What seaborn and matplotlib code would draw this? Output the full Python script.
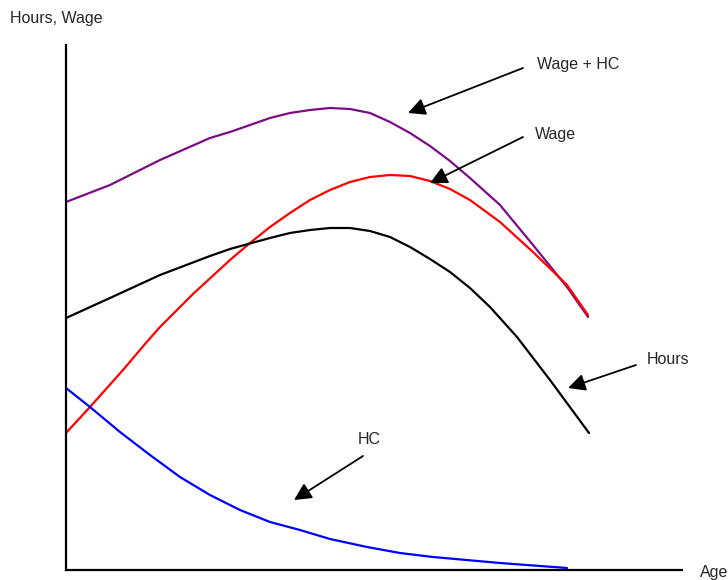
import numpy as np
import pandas as pd
import seaborn as sns
import matplotlib
matplotlib.use("Agg")
import matplotlib.pyplot as plt

sns.set_theme(style="white")
plt.rcParams['font.family'] = ['Liberation Sans', 'DejaVu Sans']

# curve values (age units on x, level on y)
wage_hc_x = [0, 44, 94, 144, 164, 184, 204, 224, 244, 264, 284, 304, 324, 344, 364, 384, 404, 434, 467, 501, 522]
wage_hc_y = [368, 385, 410, 432, 438, 445, 452, 457, 460, 462, 461, 457, 448, 437, 424, 409, 392, 365, 325, 283, 253]

wage_x = [0, 24, 57, 79, 94, 127, 164, 184, 204, 224, 244, 264, 284, 304, 324, 344, 364, 384, 404, 434, 467, 501, 522]
wage_y = [137, 163, 200, 226, 243, 276, 310, 327, 343, 357, 370, 380, 388, 393, 395, 394, 389, 381, 370, 348, 318, 285, 255]

hours_x = [0, 44, 94, 144, 164, 182, 204, 224, 244, 264, 284, 304, 324, 344, 364, 384, 404, 424, 451, 484, 523]
hours_y = [252, 272, 295, 314, 321, 326, 332, 337, 340, 342, 342, 339, 333, 323, 311, 298, 282, 263, 233, 190, 137]

hc_x = [0, 24, 54, 84, 114, 144, 174, 204, 234, 264, 301, 334, 367, 434, 501]
hc_y = [182, 163, 138, 115, 93, 75, 60, 48, 40, 31, 23, 17, 13, 7, 2]

series = ["Wage + HC", "Wage", "Hours", "HC"]
colors = ["#7B0D84", "#FF0000", "#000000", "#0000FF"]

frames = []
for name, xs, ys in zip(series, [wage_hc_x, wage_x, hours_x, hc_x], [wage_hc_y, wage_y, hours_y, hc_y]):
    frames.append(pd.DataFrame({"age": xs, "level": ys, "curve": name}))
df = pd.concat(frames, ignore_index=True)

fig = plt.figure(figsize=(7.28, 5.8), dpi=100)
ax = fig.add_axes([66 / 728, 10 / 580, (682 - 66) / 728, (570 - 45) / 580])
sns.lineplot(data=df, x="age", y="level", hue="curve", palette=dict(zip(series, colors)),
             estimator=None, sort=False, linewidth=1.6, legend=False, ax=ax)
for line in ax.get_lines():
    line.set_solid_joinstyle("round")
ax.set_xlim(0, 616)
ax.set_ylim(0, 525)
ax.set_xticks([])
ax.set_yticks([])
ax.set_xlabel("")
ax.set_ylabel("")
for s in ["top", "right"]:
    ax.spines[s].set_visible(False)
for s in ["left", "bottom"]:
    ax.spines[s].set_color("black")
    ax.spines[s].set_linewidth(1.6)

# 标注: 箭头尾, 箭头尖, 文字位置
notes = [
    ("Wage + HC", (457, 502), (342, 457), (471, 505)),
    ("Wage", (457, 433), (364, 387), (469, 435)),
    ("Hours", (570, 205), (502, 182), (581, 210)),
    ("HC", (297, 114), (228, 70), (292, 130)),
]
for name, tail, tip, pos in notes:
    ax.annotate("", xy=tip, xytext=tail, annotation_clip=False,
                arrowprops=dict(arrowstyle="-|>", color="black", lw=1.3, mutation_scale=26,
                                shrinkA=0, shrinkB=0))
    ax.text(pos[0], pos[1], name, fontsize=11.5, ha="left", va="center", clip_on=False)

fig.text(10 / 728, 1 - 18 / 580, "Hours, Wage", fontsize=11.5, ha="left", va="center")
fig.text(700 / 728, 1 - 572 / 580, "Age", fontsize=11.5, ha="left", va="center")

fig.savefig("out.png", dpi=100)
